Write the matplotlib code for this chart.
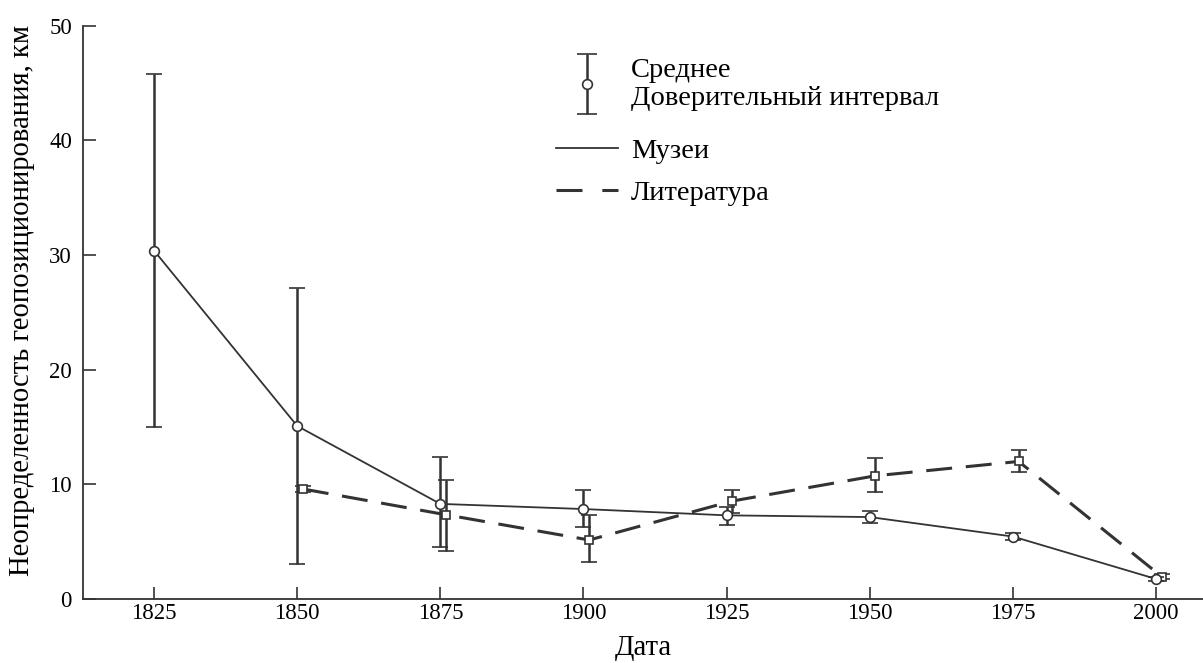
import matplotlib
matplotlib.use("Agg")
import numpy as np
import matplotlib.pyplot as plt
from matplotlib.lines import Line2D
from matplotlib.container import ErrorbarContainer
from matplotlib.legend_handler import HandlerErrorbar

# museum series
mus_years = [1825, 1850, 1875, 1900, 1925, 1950, 1975, 2000]
mus_mean = [30.4, 15.1, 8.3, 7.85, 7.3, 7.15, 5.45, 1.75]
mus_low = [15.0, 3.05, 4.5, 6.3, 6.5, 6.65, 5.15, 1.6]
mus_high = [45.8, 27.1, 12.35, 9.5, 8.05, 7.7, 5.75, 1.9]

# literature series
lit_years = [1850, 1875, 1900, 1925, 1950, 1975, 2000]
lit_mean = [9.6, 7.35, 5.15, 8.55, 10.75, 12.0, 1.95]
lit_low = [9.3, 4.15, 3.2, 7.5, 9.3, 11.1, 1.75]
lit_high = [9.9, 10.4, 7.3, 9.5, 12.3, 13.0, 2.15]

xticks = [1825, 1850, 1875, 1900, 1925, 1950, 1975, 2000]
yticks = [0, 10, 20, 30, 40, 50]

plt.rcParams['font.family'] = ['Liberation Serif', 'DejaVu Serif']
plt.rcParams['font.size'] = 16.5

fig = plt.figure(figsize=(12.03, 6.63), dpi=100)
ax = fig.add_axes([0.069, 0.0965, 0.931, 0.8645])

col = '#333333'

mus_err = [[m - lo for m, lo in zip(mus_mean, mus_low)],
           [hi - m for m, hi in zip(mus_mean, mus_high)]]
lit_err = [[m - lo for m, lo in zip(lit_mean, lit_low)],
           [hi - m for m, hi in zip(lit_mean, lit_high)]]

# literature points are drawn slightly to the right of the museum ones
lit_x = [y + 1 for y in lit_years]

ax.errorbar(lit_x, lit_mean, yerr=lit_err, color=col, ecolor=col,
            lw=2.2, dashes=(8.5, 4.5), elinewidth=1.8, capsize=6, capthick=1.8,
            marker='s', markersize=6, markerfacecolor='white',
            markeredgecolor=col, markeredgewidth=1.2, zorder=2)

ax.errorbar(mus_years, mus_mean, yerr=mus_err, color=col, ecolor=col,
            lw=1.3, elinewidth=1.8, capsize=6, capthick=1.8,
            marker='o', markersize=7, markerfacecolor='white',
            markeredgecolor=col, markeredgewidth=1.2, zorder=3)

ax.set_xlim(1812.6, 2008.2)
ax.set_ylim(0, 50)
ax.set_xticks(xticks)
ax.set_yticks(yticks)
ax.tick_params(direction='in', length=9, width=1.2, color=col)
ax.tick_params(axis='x', pad=3)
ax.tick_params(axis='y', pad=8)
for s in ['top', 'right']:
    ax.spines[s].set_visible(False)
for s in ['left', 'bottom']:
    ax.spines[s].set_linewidth(1.3)
    ax.spines[s].set_color(col)

ax.set_xlabel('Дата', fontsize=20.6, labelpad=8)
ax.set_ylabel('Неопределенность геопозиционирования, км', fontsize=20.6)
ax.yaxis.set_label_coords(-0.043, 0.52)

# legend, in two parts: mean / interval symbol, then the two line styles
leg_eb = ax.errorbar([np.nan], [np.nan], yerr=[1], color=col, ecolor=col, ls='none',
                     elinewidth=1.8, capsize=7, capthick=1.8, marker='o',
                     markersize=7, markerfacecolor='white', markeredgecolor=col,
                     markeredgewidth=1.2)
leg1 = ax.legend([leg_eb], ['Среднее\nДоверительный интервал'],
                 handler_map={ErrorbarContainer: HandlerErrorbar(yerr_size=1.05)},
                 loc='upper left', bbox_to_anchor=(0.399, 0.988), frameon=False,
                 handlelength=2.2, handletextpad=0.45, fontsize=20.5)
leg1.get_texts()[0].set_linespacing(1.15)
ax.add_artist(leg1)

h_solid = Line2D([], [], color=col, lw=1.3)
h_dash = Line2D([], [], color=col, lw=2.2, dashes=(8.5, 6.5))
ax.legend([h_solid, h_dash], ['Музеи', 'Литература'],
          loc='upper left', bbox_to_anchor=(0.399, 0.8485), frameon=False,
          handlelength=2.2, handletextpad=0.45, labelspacing=0.57,
          fontsize=20.5)

fig.savefig('out.png', dpi=100)
